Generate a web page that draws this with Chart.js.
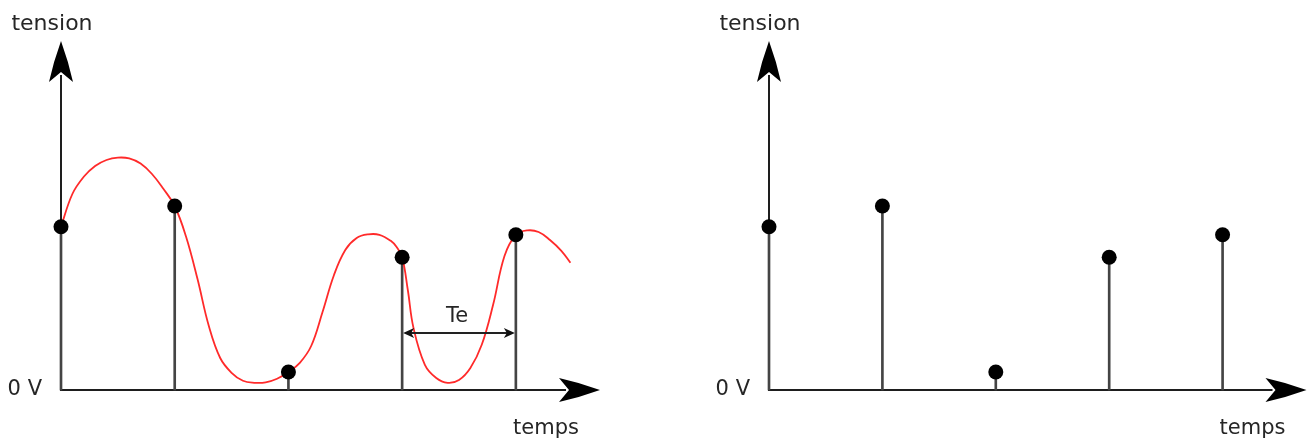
<!DOCTYPE html>
<html>
<head>
<meta charset="utf-8">
<script src="https://cdn.jsdelivr.net/npm/chart.js@4.4.1/dist/chart.umd.min.js"></script>
<style>
  html, body { margin: 0; padding: 0; background: #fff; width: 1314px; height: 441px; overflow: hidden; }
  canvas { position: absolute; top: 0; }
  #left { left: 0; }
  #right { left: 708px; }
</style>
</head>
<body>
<canvas id="left" width="660" height="441"></canvas>
<canvas id="right" width="606" height="441"></canvas>
<script>
// ---- data (time in sampling periods Te, tension in arbitrary units) ----
const sampleTimes  = [0, 1, 2, 3, 4];
const sampleValues = [4.08, 4.6, 0.45, 3.32, 3.88];

const curveTimes  = [0, 0.1, 0.2, 0.3, 0.4, 0.5, 0.6, 0.7, 0.8, 0.9, 1.0, 1.1, 1.2, 1.3, 1.4, 1.5, 1.6, 1.7, 1.8, 1.9, 2.0, 2.1, 2.2, 2.3, 2.4, 2.5, 2.6, 2.7, 2.8, 2.9, 2.95, 3.0, 3.05, 3.1, 3.2, 3.3, 3.4, 3.5, 3.6, 3.7, 3.8, 3.9, 4.0, 4.1, 4.2, 4.3, 4.4, 4.48];
const curveValues = [4.08, 4.9, 5.33, 5.6, 5.75, 5.81, 5.79, 5.66, 5.4, 5.03, 4.6, 3.83, 2.78, 1.6, 0.8, 0.43, 0.23, 0.18, 0.19, 0.28, 0.45, 0.68, 1.1, 1.95, 2.87, 3.5, 3.8, 3.89, 3.88, 3.73, 3.58, 3.32, 2.5, 1.55, 0.63, 0.3, 0.18, 0.25, 0.55, 1.13, 2.13, 3.35, 3.88, 3.99, 3.95, 3.75, 3.48, 3.18];

const xMax = 4.74;
const yMax = 8.725;

const yAxisTitle = 'tension';
const xAxisTitle = 'temps';
const zeroLabel  = '0 V';
const periodLabel = 'Te';
const periodFrom = 3, periodTo = 4, periodLevel = 1.425;

// ---- helpers ----
const pts = (xs, ys) => xs.map((x, i) => ({ x: x, y: ys[i] }));
const TEXT = '#262626';
const AXIS = '#1e1e1e';

function arrowHead(ctx, tx, ty, dir) {
  const L = 41, W = 12, N = 10;
  ctx.save();
  ctx.translate(tx, ty);
  if (dir === 'up') ctx.rotate(-Math.PI / 2);
  ctx.beginPath();
  ctx.moveTo(0, 0);
  ctx.quadraticCurveTo(-L * 0.5, -W * 0.62, -L, -W);
  ctx.lineTo(-L + N, 0);
  ctx.lineTo(-L, W);
  ctx.quadraticCurveTo(-L * 0.5, W * 0.62, 0, 0);
  ctx.closePath();
  ctx.fillStyle = '#000';
  ctx.fill();
  ctx.restore();
}

function smallArrow(ctx, tx, ty, sign) {
  const L = 11, W = 5;
  ctx.beginPath();
  ctx.moveTo(tx, ty);
  ctx.lineTo(tx - sign * L, ty - W);
  ctx.lineTo(tx - sign * (L - 3), ty);
  ctx.lineTo(tx - sign * L, ty + W);
  ctx.closePath();
  ctx.fill();
}

const axesPlugin = {
  id: 'axesPlugin',
  beforeDatasetsDraw(chart) {
    const ctx = chart.ctx;
    const xs = chart.scales.x, ys = chart.scales.y;
    const x0 = xs.getPixelForValue(0), y0 = ys.getPixelForValue(0);
    const xTip = xs.getPixelForValue(xMax), yTip = ys.getPixelForValue(yMax);
    ctx.save();
    ctx.strokeStyle = AXIS;
    ctx.lineWidth = 2;
    ctx.beginPath();
    ctx.moveTo(x0, y0 + 1);
    ctx.lineTo(x0, yTip + 34);
    ctx.moveTo(x0 - 1, y0);
    ctx.lineTo(xTip - 34, y0);
    ctx.stroke();
    arrowHead(ctx, x0, yTip, 'up');
    arrowHead(ctx, xTip, y0, 'right');
    ctx.restore();
  },
  afterDatasetsDraw(chart, args, opts) {
    const ctx = chart.ctx;
    const xs = chart.scales.x, ys = chart.scales.y;
    const x0 = xs.getPixelForValue(0), y0 = ys.getPixelForValue(0);
    const xTip = xs.getPixelForValue(xMax);
    ctx.save();
    ctx.fillStyle = TEXT;
    ctx.textBaseline = 'alphabetic';
    ctx.font = '22px "DejaVu Sans"';
    ctx.textAlign = 'center';
    ctx.fillText(yAxisTitle, x0 - 9, 30);
    ctx.font = '21px "DejaVu Sans"';
    ctx.textAlign = 'right';
    ctx.fillText(zeroLabel, x0 - 19, y0 + 5);
    ctx.textAlign = 'center';
    ctx.fillText(xAxisTitle, xTip - 54, y0 + 44);
    if (opts.period) {
      const a = xs.getPixelForValue(periodFrom), b = xs.getPixelForValue(periodTo);
      const py = ys.getPixelForValue(periodLevel);
      ctx.strokeStyle = '#222';
      ctx.fillStyle = '#111';
      ctx.lineWidth = 1.8;
      ctx.beginPath();
      ctx.moveTo(a + 4, py);
      ctx.lineTo(b - 4, py);
      ctx.stroke();
      smallArrow(ctx, a + 1, py, -1);
      smallArrow(ctx, b - 1, py, 1);
      ctx.fillStyle = TEXT;
      ctx.font = '21px "DejaVu Sans"';
      ctx.textAlign = 'center';
      ctx.fillText(periodLabel, (a + b) / 2 - 2, py - 11);
    }
    ctx.restore();
  }
};

function makeChart(id, width, withCurve) {
  const datasets = [];
  datasets.push({
    type: 'scatter',
    data: pts(sampleTimes, sampleValues),
    pointRadius: 7.5,
    pointBorderWidth: 0,
    pointBackgroundColor: '#000',
    backgroundColor: '#000',
    clip: false,
    order: 0
  });
  if (withCurve) {
    datasets.push({
      type: 'line',
      data: pts(curveTimes, curveValues),
      borderColor: '#ff2a2a',
      borderWidth: 1.8,
      pointRadius: 0,
      tension: 0.4,
      fill: false,
      clip: false,
      order: 1
    });
  }
  datasets.push({
    type: 'bar',
    data: pts(sampleTimes, sampleValues),
    backgroundColor: '#444',
    barThickness: 2,
    clip: false,
    order: 2
  });
  return new Chart(document.getElementById(id), {
    type: 'scatter',
    data: { datasets: datasets },
    options: {
      responsive: false,
      animation: false,
      events: [],
      layout: { padding: { left: 61, right: width - 600, top: 41, bottom: 441 - 390 } },
      scales: {
        x: { type: 'linear', min: 0, max: xMax, display: false, offset: false },
        y: { type: 'linear', min: 0, max: yMax, display: false }
      },
      plugins: {
        legend: { display: false },
        tooltip: { enabled: false },
        axesPlugin: { period: withCurve }
      }
    },
    plugins: [axesPlugin]
  });
}

makeChart('left', 660, true);
makeChart('right', 606, false);
</script>
</body>
</html>
